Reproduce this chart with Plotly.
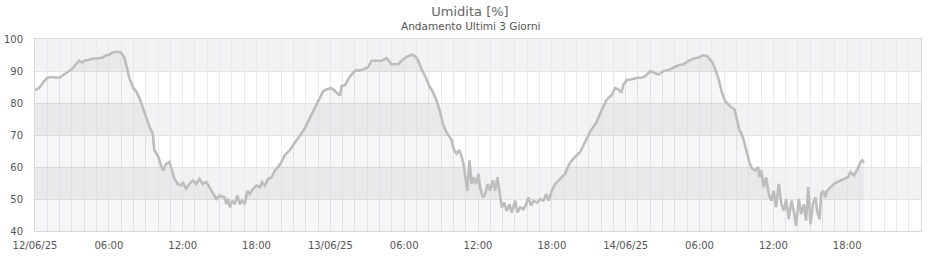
import pandas as pd
import plotly.graph_objects as go

# hours elapsed since 12/06/25 00:00
hours = [
    0.00, 0.33, 0.73, 1.01, 1.41, 2.01, 2.23, 2.64, 2.99, 3.32, 3.59, 3.86, 3.99, 4.40, 4.67, 5.03,
    5.49, 5.76, 6.03, 6.30, 6.71, 6.98, 7.26, 7.47, 7.66, 7.99, 8.21, 8.48, 8.75, 9.02, 9.16, 9.35,
    9.57, 9.70, 9.84, 10.03, 10.24, 10.43, 10.65, 10.92, 11.14, 11.33, 11.60, 11.88, 12.01, 12.28,
    12.55, 12.83, 13.10, 13.37, 13.64, 13.91, 14.18, 14.46, 14.73, 15.00, 15.41,
    15.55, 15.69, 15.83, 16.02, 16.23, 16.45, 16.64, 16.83, 17.05, 17.26, 17.45, 17.72, 17.99,
    18.27, 18.46, 18.67, 18.95, 19.22, 19.49, 19.76, 20.03, 20.30, 20.71, 21.11, 21.39, 21.66,
    21.93, 22.06, 22.33, 22.61, 22.88, 23.15, 23.42, 23.69, 24.05, 24.24, 24.51, 24.78, 24.91,
    25.18, 25.45, 25.72, 26.05, 26.40, 26.67, 27.08, 27.35, 27.76, 28.17, 28.57, 28.98, 29.52,
    29.93, 30.20, 30.61, 30.88, 31.15, 31.42,
    31.77, 32.04, 32.37, 32.70, 32.91, 33.13, 33.40, 33.67, 33.86, 34.05, 34.27, 34.48, 34.68,
    34.81, 35.00, 35.14, 35.30, 35.49, 35.63, 35.84, 36.03, 36.17, 36.39, 36.58, 36.79, 36.98,
    37.20, 37.39, 37.58, 37.74, 37.93, 38.12, 38.34, 38.55, 38.74, 39.02, 39.21, 39.42, 39.70,
    39.91, 40.10, 40.32, 40.51, 40.78, 41.05, 41.32, 41.54, 41.73, 42.00, 42.27, 42.54, 42.81,
    43.08, 43.36, 43.63, 43.90, 44.30, 44.57, 44.84, 45.12, 45.39, 45.66, 45.93, 46.20, 46.47,
    46.88, 47.15, 47.42,
    47.64, 47.83, 48.10, 48.51, 48.92, 49.32, 49.59, 50.00, 50.27, 50.68, 51.08, 51.49, 51.90,
    52.30, 52.71, 53.12, 53.52, 53.93, 54.26, 54.61, 55.02, 55.29, 55.56, 55.83, 56.10, 56.51,
    56.86, 57.05, 57.24, 57.41, 57.59, 57.87, 58.05, 58.27, 58.54, 58.76, 58.87, 59.03, 59.22,
    59.41, 59.63, 59.84, 60.03, 60.22, 60.44, 60.66, 60.85, 61.04, 61.25, 61.47, 61.66, 61.85,
    62.07, 62.26, 62.48, 62.66, 62.83, 63.02, 63.21, 63.42,
    63.56, 63.75, 63.89, 64.05, 64.24, 64.37, 64.64, 64.92, 65.19, 65.46, 65.73, 66.06, 66.27,
    66.54, 66.87, 67.09, 67.23, 67.36,
]

humidity = [
    84.0, 84.7, 86.8, 87.9, 88.1, 87.9, 88.6, 89.5, 90.5, 92.1, 93.2, 92.6, 93.2, 93.5, 93.9, 93.9,
    94.2, 94.9, 95.1, 95.8, 96.0, 95.8, 94.2, 91.1, 87.9, 84.7, 83.7, 81.6, 78.9, 75.8, 74.2, 72.1,
    70.5, 65.3, 64.2, 63.2, 60.5, 58.9, 61.0, 61.6, 58.9, 56.3, 54.7, 54.2, 55.3, 53.2,
    54.7, 55.8, 54.7, 56.3, 54.7, 55.3, 53.7, 51.6, 50.0, 51.1, 50.5,
    48.4, 50.0, 47.4, 49.5, 48.4, 51.1, 48.4, 49.5, 48.4, 52.6, 51.6, 53.2, 54.2,
    53.7, 55.3, 54.2, 56.3, 56.8, 58.9, 60.0, 61.6, 63.7, 65.3, 67.4, 68.9, 70.5,
    72.1, 73.2, 75.3, 77.9, 80.0, 82.1, 83.7, 84.2, 84.7, 84.2, 83.2, 82.3, 85.3,
    85.5, 87.4, 88.9, 90.2, 90.2, 90.5, 91.3, 93.2, 93.2, 93.2, 94.0, 92.1, 92.1,
    93.7, 94.4, 95.1, 94.7, 93.2, 90.5,
    87.9, 85.3, 83.2, 80.0, 77.4, 73.7, 71.1, 69.5, 68.4, 65.3, 64.2, 65.3, 63.2,
    61.1, 55.8, 52.6, 62.1, 54.7, 56.8, 54.7, 57.9, 53.7, 50.5, 51.6, 54.7, 52.6,
    55.8, 52.6, 56.8, 51.6, 47.4, 48.9, 46.3, 48.4, 45.8, 49.5, 45.8, 47.4, 46.8,
    48.4, 50.5, 47.9, 49.5, 48.9, 50.0, 49.5, 51.6, 49.5, 52.6, 54.7, 55.8, 56.8,
    57.9, 60.5, 62.1, 63.2, 64.7, 66.8, 68.9, 71.1, 72.6, 74.2, 76.8, 78.9, 81.1,
    82.6, 84.7, 84.2,
    83.2, 85.8, 87.2, 87.4, 87.9, 87.9, 88.4, 90.0, 89.5, 88.9, 90.0, 90.3, 91.1,
    91.8, 92.1, 93.2, 93.9, 94.2, 94.9, 94.7, 92.8, 90.5, 87.4, 83.2, 80.5, 78.9,
    77.9, 74.2, 71.6, 70.5, 68.4, 64.2, 61.6, 59.5, 58.9, 60.0, 56.8, 58.9, 53.7,
    56.8, 51.6, 49.5, 52.6, 47.4, 54.7, 48.4, 46.3, 50.0, 43.7, 49.5, 46.3, 41.6,
    50.0, 45.3, 48.4, 43.2, 53.7, 42.1, 48.4, 50.5,
    46.3, 43.7, 51.6, 52.6, 50.5, 52.6, 53.7, 54.7, 55.3, 55.8, 56.3, 56.8, 58.4,
    57.4, 59.5, 61.6, 62.1, 61.3,
]

start = "2025-06-12 00:00"
end = "2025-06-15 00:00"
tick_times = ["2025-06-12 00:00", "2025-06-12 06:00", "2025-06-12 12:00", "2025-06-12 18:00",
              "2025-06-13 00:00", "2025-06-13 06:00", "2025-06-13 12:00", "2025-06-13 18:00",
              "2025-06-14 00:00", "2025-06-14 06:00", "2025-06-14 12:00", "2025-06-14 18:00"]
tick_labels = ["12/06/25", "06:00", "12:00", "18:00",
               "13/06/25", "06:00", "12:00", "18:00",
               "14/06/25", "06:00", "12:00", "18:00"]
y_ticks = [40, 50, 60, 70, 80, 90, 100]
bands = [(50, 60), (70, 80), (90, 100)]

times = pd.Timestamp(start) + pd.to_timedelta(hours, unit="h")

FONT = "DejaVu Sans"

fig = go.Figure()
fig.add_trace(go.Scatter(
    x=times, y=humidity, mode="lines",
    line=dict(color="#bdbdbd", width=2.6),
    fill="tozeroy", fillcolor="rgba(0,0,0,0.035)",
    hoverinfo="skip", showlegend=False,
))

shapes = []
for lo, hi in bands:
    shapes.append(dict(type="rect", xref="paper", yref="y", x0=0, x1=1, y0=lo, y1=hi,
                       fillcolor="#f2f2f2", line=dict(width=0), layer="below"))

fig.update_layout(
    width=940, height=260,
    margin=dict(l=35, r=19, t=39, b=29),
    paper_bgcolor="white", plot_bgcolor="white",
    font=dict(family=FONT, size=10, color="#555555"),
    shapes=shapes,
    title=dict(text="Umidita [%]", x=0.5, xref="container", xanchor="center",
               y=1 - 11.5 / 260, yref="container", yanchor="middle",
               font=dict(family=FONT, size=13, color="#666666")),
    annotations=[dict(text="Andamento Ultimi 3 Giorni", xref="paper", yref="paper",
                      x=(470 - 35) / 886, y=(231 - 26.5) / 192, xanchor="center", yanchor="middle",
                      showarrow=False, font=dict(family=FONT, size=10.5, color="#555555"))],
    xaxis=dict(
        type="date", range=[start, end], automargin=False,
        tickmode="array", tickvals=tick_times, ticktext=tick_labels,
        showgrid=True, gridcolor="#e8e8f6", gridwidth=1,
        minor=dict(dtick=3600000, tick0=start, showgrid=True, gridcolor="#e8e8f6", gridwidth=1),
        showline=True, linecolor="#d9d9d9", linewidth=1, mirror=True,
        ticks="", ticklabelstandoff=5, zeroline=False,
        tickfont=dict(family=FONT, size=10, color="#555555"),
    ),
    yaxis=dict(
        range=[40, 100], tickmode="array", tickvals=y_ticks, automargin=False,
        showgrid=True, gridcolor="#e2e2e2", gridwidth=1,
        showline=True, linecolor="#d9d9d9", linewidth=1, mirror=True,
        ticks="", ticklabelstandoff=9, zeroline=False,
        tickfont=dict(family=FONT, size=10, color="#555555"),
    ),
)

fig.write_html("out.html")
